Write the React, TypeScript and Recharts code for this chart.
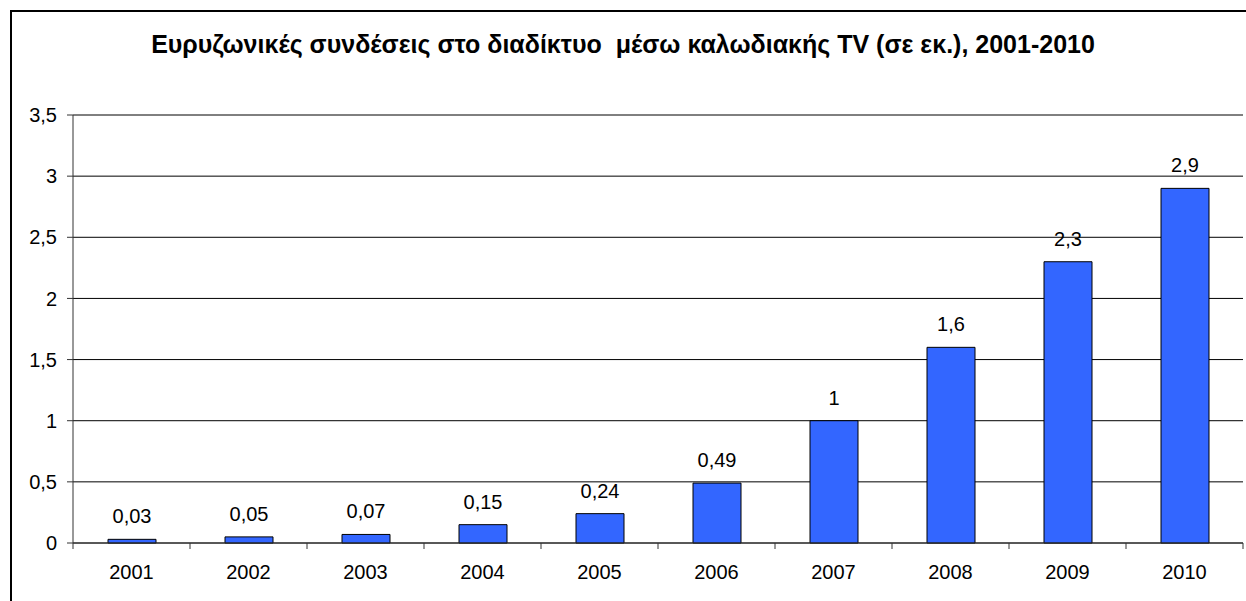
import { BarChart, Bar, XAxis, YAxis, CartesianGrid, LabelList } from "recharts";

const years = ["2001", "2002", "2003", "2004", "2005", "2006", "2007", "2008", "2009", "2010"];
const connections = [0.03, 0.05, 0.07, 0.15, 0.24, 0.49, 1, 1.6, 2.3, 2.9];
const yTicks = [0, 0.5, 1, 1.5, 2, 2.5, 3, 3.5];

const title = "Ευρυζωνικές συνδέσεις στο διαδίκτυο  μέσω καλωδιακής TV (σε εκ.), 2001-2010";

const data = years.map((y, i) => ({ year: y, value: connections[i] }));

const fmt = (v: number) => String(v).replace(".", ",");
const font = "Arial, 'Liberation Sans', sans-serif";

function YearTick(props: any) {
  const { x, y, payload, index } = props;
  const half = payload?.offset || 58.5;
  return (
    <g>
      <line x1={x - half} x2={x - half} y1={y - 6} y2={y} stroke="#333" />
      {index === years.length - 1 && (
        <line x1={x + half} x2={x + half} y1={y - 6} y2={y} stroke="#333" />
      )}
      <text x={x} y={y + 30} textAnchor="middle" fill="#000" fontSize={20} fontFamily={font}>
        {payload.value}
      </text>
    </g>
  );
}

export default function App() {
  return (
    <div style={{ position: "fixed", left: 0, top: 0, width: 1246, height: 601, overflow: "hidden", background: "#fff", fontFamily: font }}>
      <div style={{ position: "absolute", left: 10, top: 10, width: 1260, height: 620, border: "2px solid #000" }} />
      <div style={{ position: "absolute", left: 0, top: 29, width: 1246, textAlign: "center", fontWeight: "bold", fontSize: 25, lineHeight: "30px", whiteSpace: "pre", color: "#000" }}>
        {title}
      </div>
      <div style={{ position: "absolute", left: 0, top: 0 }}>
        <BarChart width={1246} height={601} data={data} margin={{ top: 115, right: 3, bottom: 0, left: 0 }} barSize={48}>
          <CartesianGrid horizontal vertical={false} stroke="#000" strokeOpacity={1} />
          <XAxis dataKey="year" height={58} axisLine={{ stroke: "#333" }} tickLine={false} tickSize={6} tickMargin={0} tick={<YearTick />} interval={0} />
          <XAxis xAxisId="top" dataKey="year" orientation="top" height={0} tick={false} tickLine={false} axisLine={{ stroke: "#999" }} />
          <YAxis domain={[0, 3.5]} ticks={yTicks} width={73} tickFormatter={fmt} interval={0}
            axisLine={{ stroke: "#333" }} tickLine={{ stroke: "#333" }} tickSize={6} tickMargin={10}
            tick={{ fill: "#000", fontSize: 20, fontFamily: font }} />
          <YAxis yAxisId="r" orientation="right" width={0} domain={[0, 3.5]} tick={false} tickLine={false} axisLine={{ stroke: "#999" }} />
          <Bar dataKey="value" fill="#3366FF" stroke="#000" strokeWidth={1} isAnimationActive={false}>
            <LabelList dataKey="value" position="top" offset={16} formatter={(v: any) => fmt(Number(v))} fill="#000" fontSize={20} fontFamily={font} />
          </Bar>
        </BarChart>
      </div>
    </div>
  );
}
